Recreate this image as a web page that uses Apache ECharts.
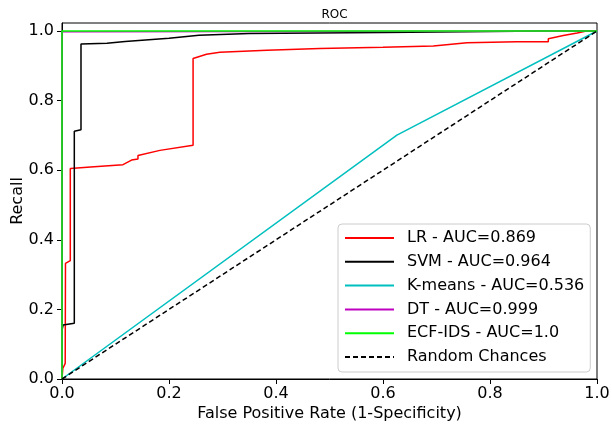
<!DOCTYPE html>
<html>
<head>
<meta charset="utf-8">
<script src="https://cdn.jsdelivr.net/npm/echarts@6/dist/echarts.min.js"></script>
<style>html,body{margin:0;padding:0;background:#fff;}#chart{width:612px;height:425px;}</style>
</head>
<body>
<div id="chart"></div>
<script>
var titleText = 'ROC';
var xLabel = 'False Positive Rate (1-Specificity)';
var yLabel = 'Recall';
var seriesNames = ['LR - AUC=0.869', 'SVM - AUC=0.964', 'K-means - AUC=0.536', 'DT - AUC=0.999', 'ECF-IDS - AUC=1.0', 'Random Chances'];
var lrFpr = [0, 0.0015, 0.006, 0.0065, 0.0155, 0.0155, 0.06, 0.114, 0.13, 0.142, 0.142, 0.183, 0.245, 0.245, 0.27, 0.295, 0.383, 0.482, 0.6, 0.694, 0.757, 0.85, 0.909, 0.909, 0.937, 0.963, 0.98, 1.0];
var lrTpr = [0, 0.03, 0.045, 0.332, 0.34, 0.605, 0.61, 0.616, 0.629, 0.632, 0.642, 0.657, 0.672, 0.921, 0.933, 0.939, 0.945, 0.95, 0.953, 0.957, 0.966, 0.969, 0.969, 0.978, 0.987, 0.994, 1.0, 1.0];
var svmFpr = [0, 0.002, 0.023, 0.023, 0.0355, 0.0355, 0.084, 0.118, 0.2, 0.256, 0.35, 0.6, 0.9, 1.0];
var svmTpr = [0.14, 0.155, 0.16, 0.712, 0.716, 0.963, 0.965, 0.97, 0.979, 0.988, 0.993, 0.996, 1.0, 1.0];
var kmFpr = [0, 0.626, 1.0];
var kmTpr = [0, 0.701, 1.0];
var dtFpr = [0, 0, 0.001, 1.0];
var dtTpr = [0, 0.998, 1.0, 1.0];
var ecfFpr = [0, 0, 1.0];
var ecfTpr = [0, 1.0, 1.0];
var rndFpr = [0, 1.0];
var rndTpr = [0, 1.0];
var xTicks = [0, 0.2, 0.4, 0.6, 0.8, 1.0];
var yTicks = [0, 0.2, 0.4, 0.6, 0.8, 1.0];

function pairs(xs, ys) { return xs.map(function (x, i) { return [x, ys[i]]; }); }
var colors = ['#ff0000', '#000000', '#00bfbf', '#bf00bf', '#00ff00', '#000000'];
var datasets = [pairs(lrFpr, lrTpr), pairs(svmFpr, svmTpr), pairs(kmFpr, kmTpr), pairs(dtFpr, dtTpr), pairs(ecfFpr, ecfTpr), pairs(rndFpr, rndTpr)];
var font = 'DejaVu Sans';
var series = seriesNames.map(function (n, i) {
  return {
    name: n, type: 'line', data: datasets[i], symbol: 'none', clip: false,
    lineStyle: { color: colors[i], width: 1.5, type: i === 5 ? [5, 3] : 'solid' },
    itemStyle: { color: colors[i] },
    z: 2 + i, animation: false
  };
});
function fmt(v) {
  for (var k = 0; k < yTicks.length; k++) { if (Math.abs(v - yTicks[k]) < 1e-6) return v.toFixed(1); }
  return '';
}
var chart = echarts.init(document.getElementById('chart'), null, { renderer: 'canvas' });
chart.setOption({
  animation: false,
  backgroundColor: '#ffffff',
  title: { text: titleText, left: 329.5, textAlign: 'center', top: 4, textStyle: { fontFamily: font, fontSize: 12, fontWeight: 'normal', color: '#000' } },
  grid: { left: 62, right: 15, top: 23, bottom: 46, show: true, borderColor: '#000', borderWidth: 1, backgroundColor: 'transparent', containLabel: false, outerBoundsMode: 'none' },
  legend: {
    orient: 'vertical', left: 338, top: 224, data: seriesNames,
    itemWidth: 49, itemHeight: 16, itemGap: 7.8,
    padding: [6, 6, 7, 6], borderColor: '#cccccc', borderWidth: 1, borderRadius: 4, backgroundColor: 'rgba(255,255,255,0.8)',
    itemStyle: { opacity: 0 },
    textStyle: { fontFamily: font, fontSize: 16, color: '#000', padding: [0, 0, 0, 8] }
  },
  xAxis: {
    type: 'value', min: 0, max: 1, interval: 0.2,
    name: xLabel, nameLocation: 'middle', nameGap: 27, nameMoveOverlap: false,
    nameTextStyle: { fontFamily: font, fontSize: 16, color: '#000' },
    axisLine: { show: true, onZero: false, lineStyle: { color: '#000', width: 1 } },
    axisTick: { show: true, inside: false, length: 5, lineStyle: { color: '#000' } },
    axisLabel: { fontFamily: font, fontSize: 16, color: '#000', margin: 7, formatter: function (v) { return v.toFixed(1); } },
    splitLine: { show: false }
  },
  yAxis: {
    type: 'value', min: 0, max: 1.023, interval: 0.2,
    name: yLabel, nameLocation: 'middle', nameGap: 36, nameRotate: 90, nameMoveOverlap: false,
    nameTextStyle: { fontFamily: font, fontSize: 16, color: '#000' },
    axisLine: { show: true, onZero: false, lineStyle: { color: '#000', width: 1 } },
    axisTick: { show: true, inside: false, length: 5, lineStyle: { color: '#000' } },
    axisLabel: { fontFamily: font, fontSize: 16, color: '#000', margin: 8, formatter: fmt, showMaxLabel: false },
    splitLine: { show: false }
  },
  series: series
});
</script>
</body>
</html>
